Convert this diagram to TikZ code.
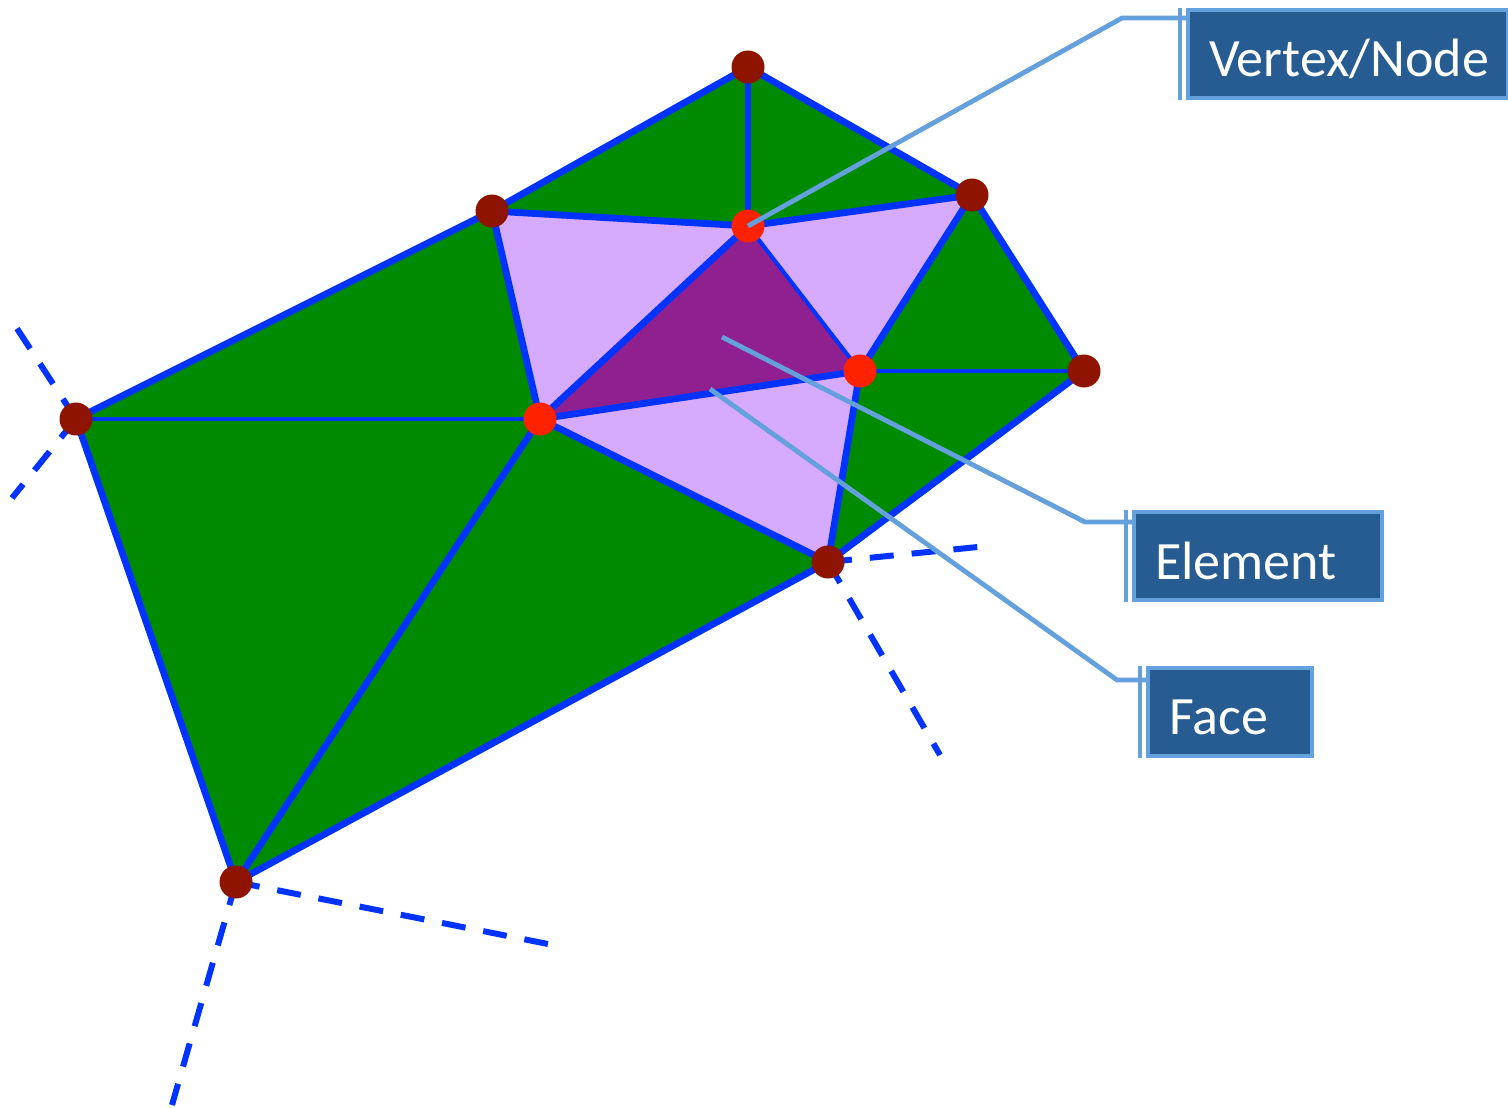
\documentclass[tikz,border=0pt]{standalone}
\usepackage{fontspec}
\setmainfont{Carlito}
\usepackage{tikz}

\definecolor{meshgreen}{RGB}{0,138,0}
\definecolor{lilac}{RGB}{213,170,255}
\definecolor{plum}{RGB}{144,32,144}
\definecolor{meshblue}{RGB}{0,51,255}
\definecolor{darkdot}{RGB}{142,20,0}
\definecolor{reddot}{RGB}{255,34,0}
\definecolor{leaderblue}{RGB}{100,160,220}
\definecolor{boxblue}{RGB}{38,92,145}

% text sits a little low in its box
\newcommand{\boxtext}[1]{\raisebox{-2.5pt}[\height][\depth]{#1}}

\begin{document}
\begin{tikzpicture}[x=0.5pt, y=-0.5pt,
    edge/.style={draw=meshblue, line width=3.4pt, line cap=round},
    thinedge/.style={draw=meshblue, line width=2pt},
    ghost/.style={draw=meshblue, line width=3pt, dash pattern=on 12pt off 9pt},
    outerdot/.style={fill=darkdot, circle, inner sep=0pt, minimum size=16.5pt},
    innerdot/.style={fill=reddot, circle, inner sep=0pt, minimum size=16.5pt},
    leader/.style={draw=leaderblue, line width=2.4pt},
    callout/.style={fill=boxblue, draw=leaderblue, line width=2pt, text=white,
      font=\fontsize{27}{30}\selectfont, align=left, anchor=north west,
      inner xsep=10.5pt, minimum height=44pt}]
  \useasboundingbox (0,0) rectangle (1508,1107);

  % Mesh vertices
  \coordinate (top) at (748,67);
  \coordinate (nw) at (492,211);
  \coordinate (ne) at (972,195);
  \coordinate (east) at (1084,371);
  \coordinate (west) at (76,419);
  \coordinate (se) at (828,562);
  \coordinate (sw) at (236,882);
  \coordinate (p1) at (748,226);
  \coordinate (p2) at (860,371);
  \coordinate (p3) at (540,419);

  % Ends of the cut-off edges
  \coordinate (w1) at (16,327);
  \coordinate (w2) at (12,498);
  \coordinate (s1) at (548,944);
  \coordinate (s2) at (172,1105);
  \coordinate (e1) at (978,547);
  \coordinate (e2) at (940,755);

  % Fill elements
  \foreach \a/\b/\c in {top/nw/p1, top/p1/ne, nw/west/p3, west/p3/sw, p3/sw/se, ne/p2/east, p2/east/se}
    \fill[meshgreen] (\a) -- (\b) -- (\c) -- cycle;
  \foreach \a/\b/\c in {nw/p1/p3, p1/ne/p2, p3/p2/se}
    \fill[lilac] (\a) -- (\b) -- (\c) -- cycle;
  \fill[plum] (p1) -- (p2) -- (p3) -- cycle;

  % Draw faces
  \foreach \a/\b in {top/nw, top/ne, ne/east, east/se, se/sw, sw/west, west/nw,
      top/p1, nw/p1, p1/ne, nw/p3, p3/sw, p3/se, p1/p3, p3/p2, p2/ne, p2/se}
    \draw[edge] (\a) -- (\b);
  \foreach \a/\b in {west/p3, p1/p2, p2/east}
    \draw[thinedge] (\a) -- (\b);

  % Cut-off edges
  \foreach \a/\b in {west/w1, west/w2, sw/s1, sw/s2, se/e1, se/e2}
    \draw[ghost] (\a) -- (\b);

  % Vertex dots
  \foreach \v in {top, nw, ne, east, west, se, sw}
    \node[outerdot] (\v dot) at (\v) {};
  \foreach \v in {p1, p2, p3}
    \node[innerdot] (\v dot) at (\v) {};

  % Label boxes
  \node[callout, text width=139pt] (vertexbox) at (1186,8) {\boxtext{Vertex/Node}};
  \node[callout, text width=103pt] (elementbox) at (1132,510) {\boxtext{Element}};
  \node[callout, text width=61pt] (facebox) at (1146,666) {\boxtext{Face}};
  \foreach \b in {vertexbox, elementbox, facebox}
    \draw[leader] ([xshift=-3pt]\b.north west) -- ([xshift=-3pt]\b.south west);

  % Leader lines
  \coordinate (elem) at (722,337);
  \coordinate (face) at (710,389);
  \coordinate (vbend) at (1122,18);
  \coordinate (ebend) at (1085,522);
  \coordinate (fbend) at (1117,680);
  \draw[leader] (p1) -- (vbend) -- (vbend -| vertexbox.west);
  \draw[leader] (elem) -- (ebend) -- (ebend -| elementbox.west);
  \draw[leader] (face) -- (fbend) -- (fbend -| facebox.west);
\end{tikzpicture}
\end{document}
